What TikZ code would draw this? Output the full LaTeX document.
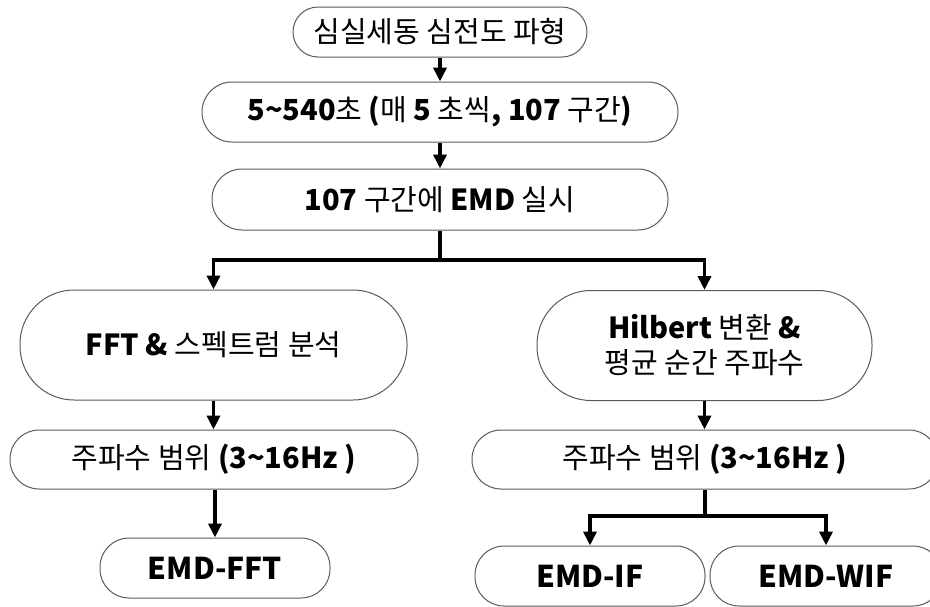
\documentclass[tikz,border=0pt]{standalone}
\usepackage{fontspec}
\setmainfont{Noto Sans CJK KR}
\usetikzlibrary{arrows.meta}

\begin{document}
\begin{tikzpicture}[
	x=1pt, y=-1pt,
	box/.style={draw=black!65, line width=1pt, rectangle, rounded corners=25pt, minimum height=50pt, inner sep=0pt, align=center, font=\fontsize{29pt}{35pt}\selectfont},
	bigbox/.style={box, rounded corners=54pt, minimum height=110pt},
	result/.style={box, rounded corners=29pt, minimum height=60pt, minimum width=230pt, font=\fontsize{30pt}{36pt}\selectfont\bfseries},
	arrow/.style={line width=3.5pt, -{Triangle[length=14pt,width=13pt]}}
]
\clip (0,0) rectangle (930,606);

% main column
\node[box, minimum width=294pt] (ecg) at (440,32) {심실세동 심전도 파형};
\node[box, minimum width=476pt, minimum height=60pt, rounded corners=30pt] (seg) at (440,112) {\textbf{5\textasciitilde540}초 \textbf{(}매 \textbf{5} 초씩\textbf{, 107} 구간\textbf{)}};
\node[box, minimum width=456pt, minimum height=61pt, rounded corners=30pt] (emd) at (440,199.5) {\textbf{107} 구간에 \textbf{EMD} 실시};

\draw[arrow] (ecg) -- (seg);
\draw[arrow] (seg) -- (emd);

% left branch
\node[bigbox, minimum width=387pt] (fft) at (213.5,345) {\textbf{FFT \&} 스펙트럼 분석};
\node[box, minimum width=408pt, minimum height=59pt, rounded corners=29pt] (bandL) at (214,459.5) {주파수 범위 \textbf{(3\textasciitilde16Hz )}};
\node[result] (emdfft) at (215,568) {EMD-FFT};

% right branch
\node[bigbox, minimum width=335pt] (hilb) at (704.5,345.5) {\textbf{Hilbert} 변환 \textbf{\&}\\평균 순간 주파수};
\node[box, minimum width=466pt, minimum height=59pt, rounded corners=29pt] (bandR) at (705,459.5) {주파수 범위 \textbf{(3\textasciitilde16Hz )}};
\node[result] (emdif) at (590,576) {EMD-IF};
\node[result, minimum width=232pt] (emdwif) at (826,576) {EMD-WIF};

\coordinate (split1) at (440,260);
\coordinate (split2) at (705,516);

\draw[arrow] (emd.south) -- (split1) -| (fft.north);
\draw[arrow] (emd.south) -- (split1) -| (hilb.north);
\draw[arrow] (fft.south) -- (fft.south |- bandL.north);
\draw[arrow] (bandL.south -| emdfft.north) -- (emdfft.north);
\draw[arrow] (hilb.south) -- (hilb.south |- bandR.north);
\draw[arrow] (bandR.south) -- (split2) -| (emdif.north);
\draw[arrow] (bandR.south) -- (split2) -| (emdwif.north);
\end{tikzpicture}
\end{document}
